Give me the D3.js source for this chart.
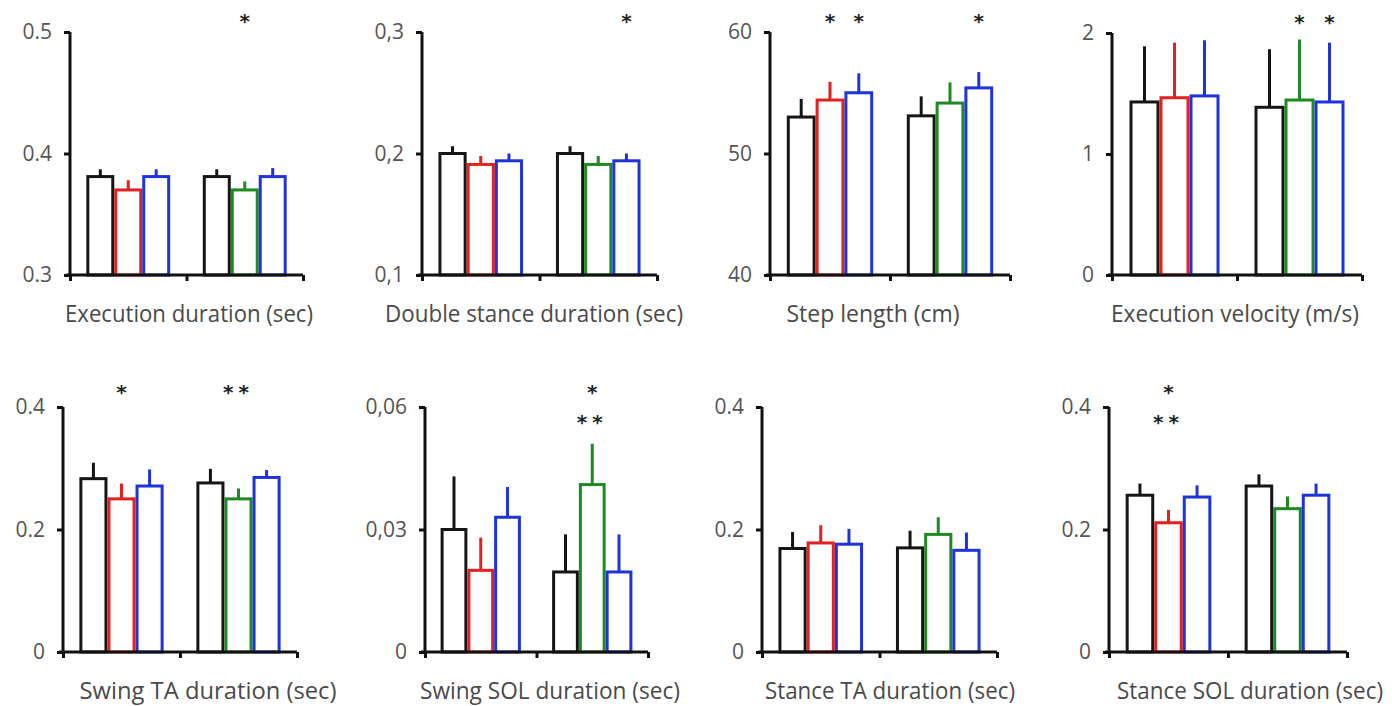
<!DOCTYPE html>
<html>
<head>
<meta charset="utf-8">
<script src="https://cdn.jsdelivr.net/npm/d3@7"></script>
<style>
  html, body { margin: 0; padding: 0; background: #fff; }
  svg { display: block; }
</style>
</head>
<body>
<svg id="chart" width="1392" height="706"></svg>
<script>
// ---------------- DATA ----------------
const categories = [
  "Execution duration (sec)", "Double stance duration (sec)", "Step length (cm)", "Execution velocity (m/s)",
  "Swing TA duration (sec)", "Swing SOL duration (sec)", "Stance TA duration (sec)", "Stance SOL duration (sec)"
];
const groups = ["A", "B"];
const barSeries = [["control", "red", "blue"], ["control", "green", "blue"]];

// means [panel][group][bar]
const means = [
  [[0.381, 0.370, 0.381], [0.381, 0.370, 0.381]],
  [[0.200, 0.191, 0.194], [0.200, 0.191, 0.194]],
  [[53.0, 54.4, 55.0], [53.1, 54.15, 55.4]],
  [[1.43, 1.465, 1.48], [1.386, 1.446, 1.43]],
  [[0.283, 0.250, 0.271], [0.276, 0.250, 0.285]],
  [[0.030, 0.020, 0.033], [0.0196, 0.041, 0.0196]],
  [[0.169, 0.178, 0.176], [0.170, 0.192, 0.166]],
  [[0.256, 0.211, 0.253], [0.271, 0.234, 0.256]]
];
// error bar (upper) sizes [panel][group][bar]
const errors = [
  [[0.006, 0.008, 0.006], [0.006, 0.007, 0.007]],
  [[0.006, 0.007, 0.006], [0.006, 0.007, 0.006]],
  [[1.5, 1.5, 1.6], [1.6, 1.7, 1.3]],
  [[0.46, 0.455, 0.46], [0.48, 0.50, 0.49]],
  [[0.026, 0.025, 0.027], [0.023, 0.017, 0.012]],
  [[0.013, 0.008, 0.0074], [0.0092, 0.010, 0.0092]],
  [[0.027, 0.029, 0.025], [0.028, 0.028, 0.029]],
  [[0.019, 0.021, 0.019], [0.019, 0.020, 0.019]]
];
const yDomains = [[0.3, 0.5], [0.1, 0.3], [40, 60], [0, 2], [0, 0.4], [0, 0.06], [0, 0.4], [0, 0.4]];
const tickValues = [
  [0.3, 0.4, 0.5], [0.1, 0.2, 0.3], [40, 50, 60], [0, 1, 2],
  [0, 0.2, 0.4], [0, 0.03, 0.06], [0, 0.2, 0.4], [0, 0.2, 0.4]
];
const tickLabels = [
  ["0.3", "0.4", "0.5"], ["0,1", "0,2", "0,3"], ["40", "50", "60"], ["0", "1", "2"],
  ["0", "0.2", "0.4"], ["0", "0,03", "0,06"], ["0", "0.2", "0.4"], ["0", "0.2", "0.4"]
];
// significance marks
const sigPanel = [0, 1, 2, 2, 2, 3, 3, 4, 4, 5, 5, 7, 7];
const sigGroup = [1, 1, 0, 0, 1, 1, 1, 0, 1, 1, 1, 0, 0];
const sigBar   = [1, 2, 1, 2, 2, 1, 2, 1, 1, 1, 1, 1, 1];
const sigLevel = [0, 0, 0, 0, 0, 0, 0, 0, 0, 0, 1, 0, 1];
const sigText  = ["*", "*", "*", "*", "*", "*", "*", "*", "**", "*", "**", "*", "**"];

// ---------------- LAYOUT / STYLE ----------------
const colorMap = { control: "#151515", red: "#e3211f", green: "#1e8a22", blue: "#1f33dc" };
const layout = [
  { x0: 70,   x1: 303,  yT: 32,  yB: 275, tx: 189,  ty: 322 },
  { x0: 422,  x1: 657,  yT: 32,  yB: 275, tx: 534,  ty: 322 },
  { x0: 770,  x1: 1010, yT: 32,  yB: 275, tx: 873,  ty: 322 },
  { x0: 1112, x1: 1362, yT: 33,  yB: 275, tx: 1235, ty: 322 },
  { x0: 63,   x1: 297,  yT: 407, yB: 652, tx: 208,  ty: 699 },
  { x0: 425,  x1: 648,  yT: 407, yB: 652, tx: 550,  ty: 699 },
  { x0: 762,  x1: 997,  yT: 407, yB: 652, tx: 890,  ty: 699 },
  { x0: 1109, x1: 1347, yT: 407, yB: 652, tx: 1250, ty: 699 }
];
const titleWidths = [248, 298, 173, 248, 257, 260, 250, 266];

const svg = d3.select("#chart");
const SW = 3;

const panels = categories.map((c, i) => ({ i, title: c }));

panels.forEach(p => {
  const L = layout[p.i];
  const g = svg.append("g");
  const y = d3.scaleLinear().domain(yDomains[p.i]).range([L.yB, L.yT]);
  const xg = d3.scaleBand().domain(groups).range([L.x0, L.x1]).paddingInner(0.28).paddingOuter(0.14);
  const xb = d3.scaleBand().domain([0, 1, 2]).range([0, xg.bandwidth()]).padding(0);

  // bars
  groups.forEach((gr, gi) => {
    [0, 1, 2].forEach(bi => {
      const v = means[p.i][gi][bi];
      const e = errors[p.i][gi][bi];
      const col = colorMap[barSeries[gi][bi]];
      const bx = xg(gr) + xb(bi);
      const cx = bx + xb.bandwidth() / 2;
      g.append("line")
        .attr("x1", cx).attr("x2", cx)
        .attr("y1", y(v)).attr("y2", y(v + e))
        .attr("stroke", col).attr("stroke-width", SW);
      g.append("rect")
        .attr("x", bx + SW / 2)
        .attr("y", y(v))
        .attr("width", xb.bandwidth() - SW)
        .attr("height", y(yDomains[p.i][0]) - y(v))
        .attr("fill", "#fff")
        .attr("stroke", col)
        .attr("stroke-width", SW);
    });
  });

  // y axis
  const yAxis = d3.axisLeft(y).tickValues(tickValues[p.i])
    .tickFormat((d, k) => tickLabels[p.i][k]).tickSize(6).tickPadding(12);
  const ya = g.append("g").attr("transform", `translate(${L.x0},0)`).call(yAxis);
  ya.select(".domain").attr("d", `M0,${L.yT}V${L.yB}`).attr("stroke", "#111").attr("stroke-width", SW);
  ya.selectAll(".tick line").attr("stroke", "#111").attr("stroke-width", SW);
  ya.selectAll(".tick text").attr("fill", "#555").attr("font-family", "Open Sans, sans-serif").attr("font-size", 21);

  // x axis (baseline with ticks at start, middle, end)
  const xs = d3.scaleLinear().domain([0, 2]).range([L.x0, L.x1]);
  const xAxis = d3.axisBottom(xs).tickValues([0, 1, 2]).tickFormat("").tickSize(6).tickSizeOuter(0);
  const xa = g.append("g").attr("transform", `translate(0,${L.yB})`).call(xAxis);
  xa.select(".domain").attr("d", `M${L.x0 - 4},0H${L.x1}`).attr("stroke", "#111").attr("stroke-width", SW);
  xa.selectAll(".tick line").attr("stroke", "#111").attr("stroke-width", SW);

  // title
  g.append("text")
    .attr("x", L.tx).attr("y", L.ty)
    .attr("text-anchor", "middle")
    .attr("font-family", "Open Sans, sans-serif")
    .attr("font-size", 23)
    .attr("fill", "#4a4a4a")
    .attr("textLength", titleWidths[p.i])
    .attr("lengthAdjust", "spacingAndGlyphs")
    .text(p.title);

  // significance marks
  sigPanel.forEach((pi, k) => {
    if (pi !== p.i) return;
    const gi = sigGroup[k], bi = sigBar[k];
    const cx = xg(groups[gi]) + xb(bi) + xb.bandwidth() / 2;
    const cy = p.i < 4 ? L.yT - 16 : (sigLevel[k] === 0 ? L.yT - 20 : L.yT + 10);
    g.append("text")
      .attr("x", cx).attr("y", cy + 12)
      .attr("text-anchor", "middle")
      .attr("font-family", "DejaVu Sans, sans-serif")
      .attr("font-weight", "bold")
      .attr("font-size", 20)
      .attr("letter-spacing", sigText[k].length > 1 ? 5 : 0)
      .attr("fill", "#222")
      .text(sigText[k]);
  });
});
</script>
</body>
</html>
